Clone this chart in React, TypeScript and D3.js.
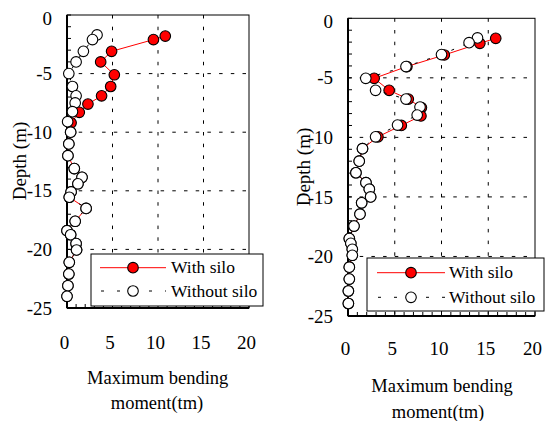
import * as d3 from 'd3';

// depth (m) and maximum bending moment (tm)
const leftWithDepth = [-1.8, -2.1, -3.1, -4.0, -5.1, -6.1, -6.9, -7.6, -8.3, -9.2, -10.0, -11.0, -12.0, -13.1, -13.85, -14.4, -15.1, -15.55, -16.5, -17.6, -18.4, -18.75, -19.5, -20.05, -21.1, -22.1, -23.1, -24.0];
const leftWithMoment = [10.8, 9.5, 4.9, 3.7, 5.2, 4.8, 3.8, 2.3, 1.35, 0.45, 0.4, 0.2, 0.1, 0.8, 1.65, 1.2, 0.45, 0.25, 2.1, 0.9, 0, 0.4, 1.0, 1.05, 0.25, 0.2, 0.1, 0];
const leftWithoutDepth = [-1.7, -2.1, -3.1, -4.0, -5.0, -6.1, -6.9, -7.5, -8.25, -9.1, -10.0, -11.0, -12.0, -13.1, -13.85, -14.4, -15.1, -15.55, -16.5, -17.6, -18.4, -18.75, -19.5, -20.05, -21.1, -22.1, -23.1, -24.0];
const leftWithoutMoment = [3.3, 2.8, 1.8, 1.0, 0.2, 0.6, 1.0, 0.9, 0.6, 0.07, 0.4, 0.2, 0.1, 0.8, 1.65, 1.2, 0.45, 0.25, 2.1, 0.9, 0, 0.4, 1.0, 1.05, 0.25, 0.2, 0.1, 0];

const rightWithDepth = [-1.68, -2.1, -3.08, -4.05, -5.04, -6.05, -6.78, -7.5, -8.2, -9.0, -9.95, -10.95, -12.0, -12.97, -13.8, -14.35, -15.0, -15.5, -16.45, -17.45, -18.5, -18.9, -19.4, -19.9, -20.9, -21.9, -22.9, -23.95];
const rightWithMoment = [15.8, 14.1, 10.3, 6.3, 2.8, 4.4, 6.45, 7.85, 7.8, 5.7, 3.2, 1.55, 1.2, 0.85, 1.92, 2.28, 2.42, 1.46, 1.28, 0.64, 0.14, 0.3, 0.46, 0.46, 0.14, 0.14, 0.04, 0.04];
const rightWithoutDepth = [-1.65, -2.05, -3.05, -4.05, -5.04, -6.05, -6.78, -7.45, -8.13, -8.97, -9.95, -10.95, -12.0, -12.97, -13.8, -14.35, -15.0, -15.5, -16.45, -17.45, -18.5, -18.9, -19.4, -19.9, -20.9, -21.9, -22.9, -23.95];
const rightWithoutMoment = [13.85, 12.95, 10.0, 6.2, 1.9, 2.95, 6.2, 7.7, 7.4, 5.3, 2.95, 1.55, 1.2, 0.85, 1.92, 2.28, 2.42, 1.46, 1.28, 0.64, 0.14, 0.3, 0.46, 0.46, 0.14, 0.14, 0.04, 0.04];

const xTicks = [0, 5, 10, 15, 20];
const yTicks = [0, -5, -10, -15, -20, -25];
const seriesNames = ['With silo', 'Without silo'];
const xTitle = ['Maximum bending', 'moment(tm)'];
const yTitle = 'Depth (m)';

const FONT = "'Liberation Serif', 'DejaVu Serif', 'Times New Roman', Times, serif";

type PanelProps = {
  x0: number; x1: number; y0: number; y1: number;
  withDepth: number[]; withMoment: number[];
  withoutDepth: number[]; withoutMoment: number[];
  legend: { x: number; y: number; w: number; h: number; row1: number; row2: number; lx0: number; lx1: number; tx: number };
  xLabelY: number; titleY: [number, number]; titleX: [number, number];
  yTitleX: number; yTitleY: number;
};

function Panel(p: PanelProps) {
  const x = d3.scaleLinear().domain([0, 20]).range([p.x0, p.x1]);
  const y = d3.scaleLinear().domain([0, -25]).range([p.y0, p.y1]);
  const line = d3.line<[number, number]>().x(d => x(d[0])).y(d => y(d[1]));
  const withPts = p.withMoment.map((m, i) => [m, p.withDepth[i]] as [number, number]);
  const withoutPts = p.withoutMoment.map((m, i) => [m, p.withoutDepth[i]] as [number, number]);
  const minorX = d3.range(0, 21, 1);
  const minorY = d3.range(0, -26, -1);
  const r = 5.3;
  const L = p.legend;
  const txt = { fontFamily: FONT };
  return (
    <g>
      {/* dashed grid */}
      {xTicks.slice(1, -1).map(t => (
        <line key={'gx' + t} x1={x(t)} x2={x(t)} y1={p.y0} y2={p.y1} stroke="#000" strokeWidth={1} strokeDasharray="3.5,8.2" />
      ))}
      {yTicks.slice(1, -1).map(t => (
        <line key={'gy' + t} x1={p.x0} x2={p.x1} y1={y(t)} y2={y(t)} stroke="#000" strokeWidth={1} strokeDasharray="3.5,8.2" />
      ))}
      {/* minor ticks */}
      {minorY.map(t => (
        <line key={'my' + t} x1={p.x0} x2={p.x0 + 4} y1={y(t)} y2={y(t)} stroke="#000" strokeWidth={1} />
      ))}
      {minorX.map(t => (
        <line key={'mx' + t} x1={x(t)} x2={x(t)} y1={p.y1} y2={p.y1 - 4} stroke="#000" strokeWidth={1} />
      ))}
      {/* frame */}
      <rect x={p.x0} y={p.y0} width={p.x1 - p.x0} height={p.y1 - p.y0} fill="none" stroke="#000" strokeWidth={1} />
      <line x1={p.x0} x2={p.x0} y1={p.y0} y2={p.y1} stroke="#000" strokeWidth={2} />
      <line x1={p.x0} x2={p.x1} y1={p.y1} y2={p.y1} stroke="#000" strokeWidth={2} />

      {/* with silo */}
      <path d={line(withPts) || ''} fill="none" stroke="#ff0000" strokeWidth={1} />
      {withPts.map((d, i) => (
        <circle key={'w' + i} cx={x(d[0])} cy={y(d[1])} r={r} fill="#ff0000" stroke="#000" strokeWidth={1.1} />
      ))}
      {/* without silo */}
      <path d={line(withoutPts) || ''} fill="none" stroke="#000" strokeWidth={1} strokeDasharray="3,10" />
      {withoutPts.map((d, i) => (
        <circle key={'o' + i} cx={x(d[0])} cy={y(d[1])} r={r} fill="#fff" stroke="#000" strokeWidth={1.1} />
      ))}

      {/* tick labels */}
      {yTicks.map(t => (
        <text key={'ty' + t} x={p.x0 - 15} y={y(t) + (t === 0 ? 3 : 0)} dy="0.35em" textAnchor="end" fontSize={19} style={txt}>{t}</text>
      ))}
      {xTicks.map(t => (
        <text key={'tx' + t} x={x(t) - 2.5} y={p.xLabelY} textAnchor="middle" fontSize={19} style={txt}>{t}</text>
      ))}
      <text x={p.titleX[0]} y={p.titleY[0]} textAnchor="middle" fontSize={18.5} style={txt}>{xTitle[0]}</text>
      <text x={p.titleX[1]} y={p.titleY[1]} textAnchor="middle" fontSize={18.5} style={txt}>{xTitle[1]}</text>
      <text transform={`translate(${p.yTitleX},${p.yTitleY}) rotate(-90)`} textAnchor="middle" fontSize={19} style={txt}>{yTitle}</text>

      {/* legend */}
      <rect x={L.x} y={L.y} width={L.w} height={L.h} fill="#fff" stroke="#000" strokeWidth={1} />
      <line x1={L.lx0} x2={L.lx1} y1={L.row1} y2={L.row1} stroke="#ff0000" strokeWidth={1} />
      <circle cx={(L.lx0 + L.lx1) / 2} cy={L.row1} r={r} fill="#ff0000" stroke="#000" strokeWidth={1.1} />
      <text x={L.tx} y={L.row1 + 5.5} fontSize={17.5} style={txt}>{seriesNames[0]}</text>
      <line x1={L.lx0} x2={L.lx1} y1={L.row2} y2={L.row2} stroke="#000" strokeWidth={1} strokeDasharray="3,13" strokeDashoffset={-1} />
      <circle cx={(L.lx0 + L.lx1) / 2} cy={L.row2} r={r} fill="#fff" stroke="#000" strokeWidth={1.1} />
      <text x={L.tx} y={L.row2 + 5.5} fontSize={17.5} style={txt}>{seriesNames[1]}</text>
    </g>
  );
}

export default function App() {
  return (
    <svg width={547} height={421} style={{ position: 'absolute', left: 0, top: 0, background: '#fff' }}>
      <rect width={547} height={421} fill="#fff" />
      <Panel
        x0={67} x1={249} y0={15} y1={308}
        withDepth={leftWithDepth} withMoment={leftWithMoment}
        withoutDepth={leftWithoutDepth} withoutMoment={leftWithoutMoment}
        legend={{ x: 91, y: 254, w: 172, h: 52, row1: 267.7, row2: 291, lx0: 100, lx1: 166, tx: 171 }}
        xLabelY={349} titleY={[384, 409]} titleX={[157.7, 157]}
        yTitleX={26} yTitleY={161}
      />
      <Panel
        x0={348} x1={535} y0={18.3} y1={316}
        withDepth={rightWithDepth} withMoment={rightWithMoment}
        withoutDepth={rightWithoutDepth} withoutMoment={rightWithoutMoment}
        legend={{ x: 367, y: 258, w: 177, h: 53, row1: 272.7, row2: 297.3, lx0: 377, lx1: 445, tx: 449 }}
        xLabelY={355} titleY={[392, 418]} titleX={[442, 438]}
        yTitleX={310} yTitleY={167}
      />
    </svg>
  );
}
